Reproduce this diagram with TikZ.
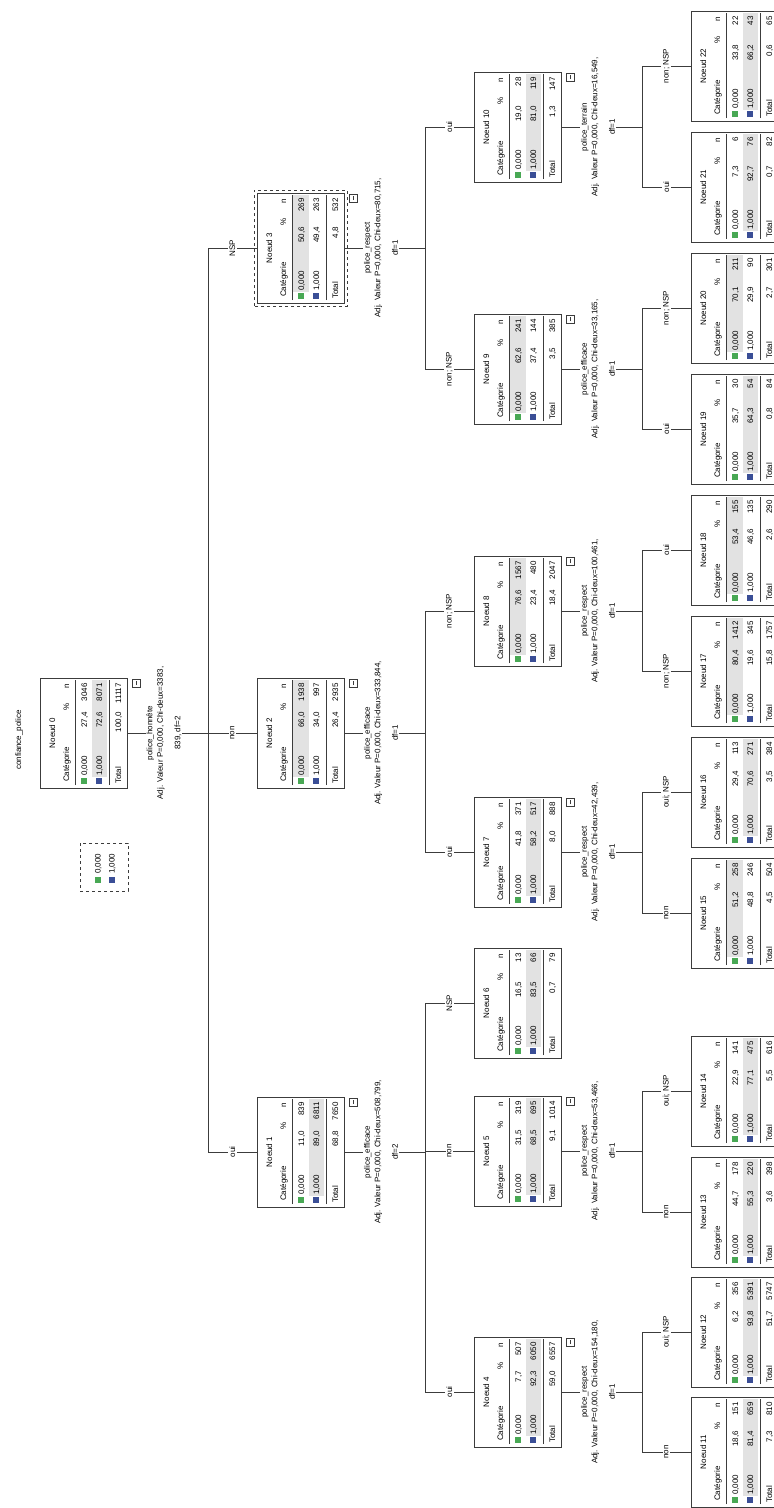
\documentclass[tikz,border=0pt]{standalone}
\usepackage{fontspec}
\setmainfont{Liberation Sans}
\usetikzlibrary{calc}
\definecolor{sgreen}{RGB}{72,168,84}
\definecolor{sblue}{RGB}{58,78,150}
\definecolor{band}{RGB}{226,226,226}
\definecolor{ln}{RGB}{60,60,60}
\newcommand\tf{\fontsize{8}{10.5}\selectfont}
\tikzset{
 tbox/.style={draw=ln, line width=0.9pt, rotate=90, minimum width=110pt, minimum height=87pt, inner sep=0pt, fill=white},
 txt/.style={inner sep=0pt, font=\tf},
 conn/.style={draw=ln, line width=0.9pt},
 brl/.style={fill=white, inner sep=1.5pt, rotate=90, font=\tf},
 spl/.style={fill=white, inner sep=1pt, rotate=90, font=\tf, align=center},
 rulel/.style={draw=ln, line width=0.8pt},
}
\newcommand\tnode[9]{\def\Tname{#1}\def\TL{#2}\def\TY{#3}\def\Tnum{#4}\def\Tshade{#5}\def\Ta{#6}\def\Tb{#7}\def\Tc{#8}\def\Td{#9}\tnodeB}
\newcommand\tnodeB[3]{%
 \node[tbox] (\Tname) at ({\TL+43.5},{-\TY}) {};
 \begin{scope}[shift={(\Tname.center)}, rotate=90, transform shape]
  \ifnum\Tshade=1 \fill[band] (-44,7.5) rectangle (53,-8);\else\fill[band] (-44,-8.5) rectangle (53,-23.5);\fi
  \node[txt, anchor=base] (\Tname-t) at (0,28.5) {Noeud \Tnum};
  \node[txt, anchor=base west] (\Tname-hc) at (-49,14.5) {Catégorie};
  \node[txt, anchor=base] (\Tname-hp) at (26,14.5) {\%};
  \node[txt, anchor=base] (\Tname-hn) at (47,14.5) {n};
  \draw[rulel] (-52,8.5) -- (53,8.5);
  \fill[sgreen] (-51,-3.5) rectangle (-45,2.5);
  \fill[sblue] (-51,-18.5) rectangle (-45,-12.5);
  \node[txt, anchor=base west] (\Tname-c0) at (-43,-3.5) {0,000};
  \node[txt, anchor=base east] (\Tname-p0) at (21,-3.5) {\Ta};
  \node[txt, anchor=base east] (\Tname-n0) at (50,-3.5) {\Tb};
  \node[txt, anchor=base west] (\Tname-c1) at (-43,-18.5) {1,000};
  \node[txt, anchor=base east] (\Tname-p1) at (21,-18.5) {\Tc};
  \node[txt, anchor=base east] (\Tname-n1) at (50,-18.5) {\Td};
  \draw[rulel] (-52,-25.5) -- (53,-25.5);
  \node[txt, anchor=base west] (\Tname-ct) at (-51,-37.5) {Total};
  \node[txt, anchor=base east] (\Tname-pt) at (21,-37.5) {#1};
  \node[txt, anchor=base east] (\Tname-nt) at (50,-37.5) {#2};
  \ifnum#3=1
   \draw[ln, line width=0.7pt, fill=white] (46,-48.5) rectangle (54,-56.5);
   \draw[ln, line width=0.7pt] (48,-52.5) -- (52,-52.5);
  \fi
 \end{scope}}
\newcommand\busat[3]{\coordinate (#1b) at (#2,-#3);\draw[conn] (#1.south) -- (#1b);}
\newcommand\edgeto[3]{\draw[conn] (#1b |- #2.north) -- node[brl] (#1#2l) {#3} (#2.north);}
\begin{document}
\begin{tikzpicture}[x=1pt,y=1pt]
\clip (0,0) rectangle (774,-1508);
\fill[white] (0,0) rectangle (774,-1508);

% title and legend
\node[rotate=90, font=\tf, inner sep=0pt] (title) at (19,-740) {confiance\_police};
\node[draw=ln, dashed, line width=0.8pt, rotate=90, minimum width=48pt, minimum height=48pt, inner sep=0pt] (leg) at (104,-867) {};
\begin{scope}[shift={(leg.center)}, rotate=90, transform shape]
 \fill[sgreen] (-16,3.5) rectangle (-10,9.5);
 \fill[sblue] (-16,-10.5) rectangle (-10,-4.5);
 \node[txt, anchor=base west] (leg0) at (-7,3.5) {0,000};
 \node[txt, anchor=base west] (leg1) at (-7,-10.5) {1,000};
\end{scope}

% nodes
\tnode{n0}{40}{733}{0}{2}{27,4}{3046}{72,6}{8071}{100,0}{11117}{1}
\tnode{n1}{257}{1152}{1}{2}{11,0}{839}{89,0}{6811}{68,8}{7650}{1}
\tnode{n2}{257}{733}{2}{1}{66,0}{1938}{34,0}{997}{26,4}{2935}{1}
\tnode{n3}{257}{248}{3}{1}{50,6}{269}{49,4}{263}{4,8}{532}{1}
\tnode{n4}{474}{1392}{4}{2}{7,7}{507}{92,3}{6050}{59,0}{6557}{1}
\tnode{n5}{474}{1151}{5}{2}{31,5}{319}{68,5}{695}{9,1}{1014}{1}
\tnode{n6}{474}{1003}{6}{2}{16,5}{13}{83,5}{66}{0,7}{79}{0}
\tnode{n7}{474}{852}{7}{2}{41,8}{371}{58,2}{517}{8,0}{888}{1}
\tnode{n8}{474}{611}{8}{1}{76,6}{1567}{23,4}{480}{18,4}{2047}{1}
\tnode{n9}{474}{369}{9}{1}{62,6}{241}{37,4}{144}{3,5}{385}{1}
\tnode{n10}{474}{127}{10}{2}{19,0}{28}{81,0}{119}{1,3}{147}{1}
\tnode{n11}{691}{1452}{11}{2}{18,6}{151}{81,4}{659}{7,3}{810}{0}
\tnode{n12}{691}{1332}{12}{2}{6,2}{356}{93,8}{5391}{51,7}{5747}{0}
\tnode{n13}{691}{1212}{13}{2}{44,7}{178}{55,3}{220}{3,6}{398}{0}
\tnode{n14}{691}{1091}{14}{2}{22,9}{141}{77,1}{475}{5,5}{616}{0}
\tnode{n15}{691}{913}{15}{1}{51,2}{258}{48,8}{246}{4,5}{504}{0}
\tnode{n16}{691}{792}{16}{2}{29,4}{113}{70,6}{271}{3,5}{384}{0}
\tnode{n17}{691}{671}{17}{1}{80,4}{1412}{19,6}{345}{15,8}{1757}{0}
\tnode{n18}{691}{550}{18}{1}{53,4}{155}{46,6}{135}{2,6}{290}{0}
\tnode{n19}{691}{429}{19}{2}{35,7}{30}{64,3}{54}{0,8}{84}{0}
\tnode{n20}{691}{308}{20}{1}{70,1}{211}{29,9}{90}{2,7}{301}{0}
\tnode{n21}{691}{187}{21}{2}{7,3}{6}{92,7}{76}{0,7}{82}{0}
\tnode{n22}{691}{66}{22}{2}{33,8}{22}{66,2}{43}{0,6}{65}{0}

% selected node outline
\draw[ln, dashed, line width=0.8pt] ($(n3.center)+(-46.5,-58)$) rectangle ($(n3.center)+(46.5,58)$);

% connectors level 0
\busat{n0}{208}{733}
\draw[conn] (n0b |- n3.north) -- (n0b |- n1.north);
\edgeto{n0}{n1}{oui}
\edgeto{n0}{n2}{non}
\edgeto{n0}{n3}{NSP}
% level 1
\busat{n1}{425}{1152}
\draw[conn] (n1b |- n6.north) -- (n1b |- n4.north);
\edgeto{n1}{n4}{oui}
\edgeto{n1}{n5}{non}
\edgeto{n1}{n6}{NSP}
\busat{n2}{425}{733}
\draw[conn] (n2b |- n8.north) -- (n2b |- n7.north);
\edgeto{n2}{n7}{oui}
\edgeto{n2}{n8}{non; NSP}
\busat{n3}{425}{248}
\draw[conn] (n3b |- n10.north) -- (n3b |- n9.north);
\edgeto{n3}{n9}{non; NSP}
\edgeto{n3}{n10}{oui}
% level 2
\busat{n4}{642}{1392}
\draw[conn] (n4b |- n12.north) -- (n4b |- n11.north);
\edgeto{n4}{n11}{non}
\edgeto{n4}{n12}{oui; NSP}
\busat{n5}{642}{1151}
\draw[conn] (n5b |- n14.north) -- (n5b |- n13.north);
\edgeto{n5}{n13}{non}
\edgeto{n5}{n14}{oui; NSP}
\busat{n7}{642}{852}
\draw[conn] (n7b |- n16.north) -- (n7b |- n15.north);
\edgeto{n7}{n15}{non}
\edgeto{n7}{n16}{oui; NSP}
\busat{n8}{642}{611}
\draw[conn] (n8b |- n18.north) -- (n8b |- n17.north);
\edgeto{n8}{n17}{non; NSP}
\edgeto{n8}{n18}{oui}
\busat{n9}{642}{369}
\draw[conn] (n9b |- n20.north) -- (n9b |- n19.north);
\edgeto{n9}{n19}{oui}
\edgeto{n9}{n20}{non; NSP}
\busat{n10}{642}{127}
\draw[conn] (n10b |- n22.north) -- (n10b |- n21.north);
\edgeto{n10}{n21}{oui}
\edgeto{n10}{n22}{non; NSP}

% split labels
\node[spl] (s0) at (164,-733) {police\_honnête\\Adj. Valeur P=0,000, Chi-deux=3383,\\[7pt]839, df=2};
\node[spl] (s1) at (381,-1152) {police\_efficace\\Adj. Valeur P=0,000, Chi-deux=508,799,\\[7pt]df=2};
\node[spl] (s2) at (381,-733) {police\_efficace\\Adj. Valeur P=0,000, Chi-deux=333,844,\\[7pt]df=1};
\node[spl] (s3) at (381,-248) {police\_respect\\Adj. Valeur P=0,000, Chi-deux=80,715,\\[7pt]df=1};
\node[spl] (s4) at (598,-1392) {police\_respect\\Adj. Valeur P=0,000, Chi-deux=154,180,\\[7pt]df=1};
\node[spl] (s5) at (598,-1151) {police\_respect\\Adj. Valeur P=0,000, Chi-deux=53,466,\\[7pt]df=1};
\node[spl] (s7) at (598,-852) {police\_respect\\Adj. Valeur P=0,000, Chi-deux=42,439,\\[7pt]df=1};
\node[spl] (s8) at (598,-611) {police\_respect\\Adj. Valeur P=0,000, Chi-deux=100,461,\\[7pt]df=1};
\node[spl] (s9) at (598,-369) {police\_efficace\\Adj. Valeur P=0,000, Chi-deux=33,165,\\[7pt]df=1};
\node[spl] (s10) at (598,-127) {police\_terrain\\Adj. Valeur P=0,000, Chi-deux=16,549,\\[7pt]df=1};
\end{tikzpicture}
\end{document}
